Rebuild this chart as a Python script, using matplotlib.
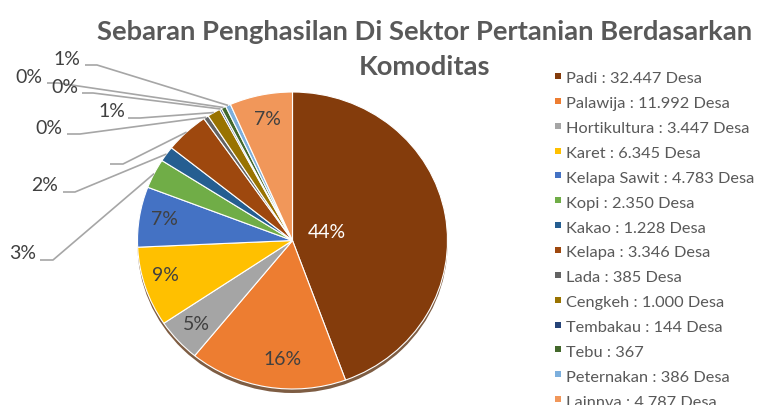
import matplotlib
matplotlib.use("Agg")
import matplotlib.pyplot as plt
from matplotlib.patches import Ellipse
import numpy as np

# ---------------- data ----------------
title_lines = ["Sebaran Penghasilan Di Sektor Pertanian Berdasarkan", "Komoditas"]
categories = ["Padi", "Palawija", "Hortikultura", "Karet", "Kelapa Sawit", "Kopi",
              "Kakao", "Kelapa", "Lada", "Cengkeh", "Tembakau", "Tebu",
              "Peternakan", "Lainnya"]
values = [32447, 11992, 3447, 6345, 4783, 2350, 1228, 3346, 385, 1000, 144, 367, 386, 4787]
legend_labels = ["Padi : 32.447 Desa", "Palawija : 11.992 Desa", "Hortikultura : 3.447 Desa",
                 "Karet : 6.345 Desa", "Kelapa Sawit : 4.783 Desa", "Kopi : 2.350 Desa",
                 "Kakao : 1.228 Desa", "Kelapa : 3.346 Desa", "Lada : 385 Desa",
                 "Cengkeh : 1.000 Desa", "Tembakau : 144 Desa", "Tebu : 367",
                 "Peternakan : 386 Desa", "Lainnva : 4.787 Desa"]
pct_labels = ["44%", "16%", "5%", "9%", "7%", "3%", "2%", "", "0%", "1%", "0%", "0%", "1%", "7%"]

colors = ["#843C0C", "#ED7D31", "#A5A5A5", "#FFC000", "#4472C4", "#70AD47",
          "#255E91", "#9E480E", "#636363", "#997300", "#264478", "#43682B",
          "#7CAFDD", "#F1975A"]

# ---------------- layout (pixels) ----------------
W, H = 760, 406
CX, CY, RX, RY = 292.5, 241.5, 155.0, 148.5

def px(x, y):
    return ((x - CX) / RX, (CY - y) / RY)

fig = plt.figure(figsize=(W / 100, H / 100), dpi=100)
ax = fig.add_axes([0, 0, 1, 1])

FONT = "Lato"
TXT = "#404040"

# shadow
ax.add_patch(Ellipse((0, -4 / RY), 2.0, 2.0, color="#5e3414", alpha=0.8, zorder=0.5, lw=0))

wedges, _ = ax.pie(values, colors=colors, startangle=90, counterclock=False,
                   radius=1.0, center=(0, 0),
                   wedgeprops=dict(edgecolor="white", linewidth=0.8))
for w in wedges:
    w.set_zorder(1)

ax.set_xlim(-CX / RX, (W - CX) / RX)
ax.set_ylim((CY - H) / RY, CY / RY)
ax.set_aspect("auto")
ax.axis("off")

# inside labels: index -> pixel position, colour
inside = {0: ((327, 233), "white"), 1: ((283, 360), TXT), 2: ((196, 325), TXT),
          3: ((165, 276), TXT), 4: ((164, 220), TXT), 13: ((267, 120), TXT)}
for i, ((x, y), c) in inside.items():
    ax.text(*px(x, y), pct_labels[i], ha="center", va="center", color=c,
            fontsize=14, family=FONT, zorder=3)

# outside labels: index -> text centre, stub start, stub end
outside = {12: ((67, 60), (85, 66), (97, 66)),
           11: ((29, 78), (47, 84), (58, 84)),
           10: ((65, 88), (82, 94), (93, 94)),
           9: ((112, 112), (128, 119), (140, 119)),
           8: ((49, 129), (67, 135), (80, 135)),
           7: (None, (110, 165), (123, 165)),
           6: ((45, 186), (63, 193), (75, 193)),
           5: ((23, 254), (40, 261), (53, 261))}
for i, (tpos, s0, s1) in outside.items():
    w = wedges[i]
    ang = np.deg2rad((w.theta1 + w.theta2) / 2)
    ex, ey = np.cos(ang), np.sin(ang)
    p0, p1 = px(*s0), px(*s1)
    ax.plot([p0[0], p1[0], ex], [p0[1], p1[1], ey], color="#A6A6A6", lw=1.2,
            zorder=2, solid_capstyle="butt")
    if tpos is not None and pct_labels[i]:
        ax.text(*px(*tpos), pct_labels[i], ha="center", va="center", color=TXT,
                fontsize=14, family=FONT, zorder=3)

# title
for line, yb in zip(title_lines, (40, 75)):
    ax.text(*px(424.5, yb), line, ha="center", va="baseline",
            color="#595959", fontsize=19.7, fontweight="bold", family=FONT)

# legend
y0, dy = 77, 24.85
for i, lab in enumerate(legend_labels):
    y = y0 + i * dy
    ax.scatter(*px(558, y), marker="s", s=20, color=colors[i], zorder=3, linewidths=0)
    ax.text(*px(566.5, y + 6.5), lab, ha="left", va="baseline", color="#595959",
            fontsize=11.8, family=FONT)

fig.savefig("out.png", dpi=100)
